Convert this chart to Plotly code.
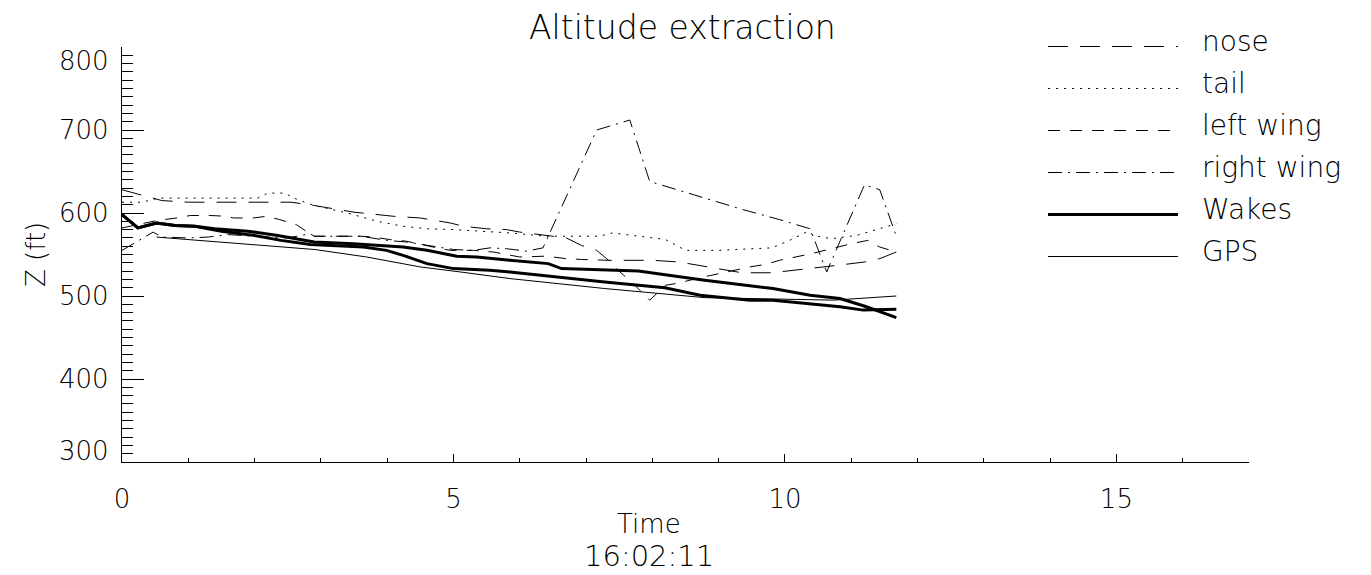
import plotly.graph_objects as go

# ---------------- text ----------------
title_text = "Altitude extraction"
x_title = "Time"
x_subtitle = "16:02:11"
y_title = "Z (ft)"

x_tick_vals = [0, 5, 10, 15]
x_tick_text = ["0", "5", "10", "15"]
y_tick_vals = [300, 400, 500, 600, 700, 800]
y_tick_text = ["300", "400", "500", "600", "700", "800"]

# ---------------- data ----------------
t_nose = [0, 0.6, 1.0, 2.55, 2.9, 3.5, 4.1, 4.5, 4.95, 5.15, 5.5, 5.8, 6.0, 6.7, 6.93,
          7.16, 7.34, 8.0, 8.4, 8.7, 9.1, 9.35, 9.8, 10.4, 10.8, 11.2, 11.43, 11.68]
z_nose = [628, 615, 613, 613, 609, 601, 596, 594, 588, 584, 581, 580, 577, 570, 561,
          555, 543, 543, 541, 537, 531, 528, 528, 533, 537, 541, 545, 553]

t_tail = [0, 0.3, 0.55, 2.05, 2.2, 2.45, 2.65, 2.9, 3.4, 3.85, 4.24, 4.6, 5.0, 5.85, 6.4,
          7.2, 7.4, 7.8, 8.2, 8.5, 9.0, 9.8, 10.07, 10.35, 10.43, 10.7, 11.08, 11.38, 11.68]
z_tail = [613, 613, 618, 618, 624, 624, 616, 609, 600, 590, 584, 581, 580, 576, 572,
          572, 576, 572, 568, 555, 555, 558, 567, 578, 573, 569, 573, 580, 587]

t_left = [0, 0.27, 0.47, 0.62, 0.83, 1.03, 1.33, 1.58, 1.68, 1.98, 2.18, 2.38, 2.63, 2.89,
          3.6, 3.79, 4.04, 4.29, 4.5, 4.69, 4.95, 5.3, 5.6, 6.0, 6.4, 6.7, 6.93, 7.34,
          7.51, 7.66, 7.81, 7.96, 8.2, 8.36, 8.72, 9.47, 9.7, 9.92, 10.4, 11.0, 11.25,
          11.43, 11.68]
z_left = [582, 587, 590, 592, 594, 597, 597, 596, 594, 594, 596, 592, 586, 572,
          572, 571, 568, 566, 562, 559, 555, 555, 553, 547, 548, 545, 544, 543,
          529, 519, 507, 495, 513, 515, 522, 535, 538, 543, 551, 563, 567,
          559, 553]

t_right = [0, 0.27, 0.47, 0.6, 1.0, 1.3, 1.6, 2.0, 2.5, 2.84, 2.9, 3.6, 4.0, 4.3, 4.6,
           5.0, 5.3, 5.55, 5.8, 6.1, 6.35, 7.16, 7.66, 7.96, 9.37, 9.92, 10.38, 10.63,
           11.2, 11.43, 11.68]
z_right = [555, 568, 577, 571, 570, 571, 574, 572, 570, 575, 572, 572, 567, 565, 561,
           556, 555, 558, 557, 554, 558, 700, 712, 638, 604, 592, 581, 529,
           634, 628, 572]

t_wake1 = [0, 0.24, 0.52, 0.8, 1.1, 1.4, 1.9, 2.35, 2.9, 3.49, 4.24, 4.6, 5.05, 5.35,
           5.85, 6.43, 6.63, 7.79, 8.79, 9.82, 10.38, 10.83, 11.23, 11.68]
z_wake1 = [598, 582, 588, 585, 584, 581, 578, 573, 565, 563, 559, 555, 548, 547,
           543, 539, 533, 530, 519, 509, 501, 497, 487, 474]

t_wake2 = [0, 0.24, 0.52, 0.8, 1.1, 1.5, 2.0, 2.4, 2.84, 3.64, 3.99, 4.24, 4.6, 5.0,
           5.55, 5.85, 7.28, 8.19, 8.72, 9.47, 9.82, 10.83, 11.18, 11.68]
z_wake2 = [598, 582, 588, 585, 584, 578, 573, 567, 562, 559, 555, 549, 539, 533,
           531, 529, 517, 510, 501, 495, 495, 487, 483, 484]

t_gps = [0.52, 2.91, 3.69, 4.5, 5.1, 5.85, 7.28, 8.79, 10.73, 11.68]
z_gps = [571, 556, 547, 535, 529, 521, 509, 498, 495, 500]

legend_labels = ["nose", "tail", "left wing", "right wing", "Wakes", "GPS"]

# ---------------- styles ----------------
DASH = {
    "nose": "20px,12px",
    "tail": "2px,6px",
    "left wing": "12px,10px",
    "right wing": "14px,6px,2px,6px",
    "Wakes": "solid",
    "GPS": "solid",
}
WIDTH = {"nose": 1, "tail": 1, "left wing": 1, "right wing": 1, "Wakes": 3, "GPS": 1}
FONT = "DejaVu Sans"
FW = 200

series = [
    ("nose", t_nose, z_nose),
    ("tail", t_tail, z_tail),
    ("left wing", t_left, z_left),
    ("right wing", t_right, z_right),
    ("Wakes", t_wake1, z_wake1),
    ("Wakes", t_wake2, z_wake2),
    ("GPS", t_gps, z_gps),
]

fig = go.Figure()
for name, t, z in series:
    fig.add_trace(go.Scatter(
        x=t, y=z, mode="lines", name=name, showlegend=False,
        line=dict(color="black", width=WIDTH[name], dash=DASH[name]),
    ))

# manual IDL-style legend
leg_x0, leg_x1, leg_tx = 1048, 1178, 1200
leg_row0, leg_step = 46.5, 42
shapes = []
annotations = []
W, H = 1371, 575
L, R, T, B = 122, 122, 47, 113
pw, ph = W - L - R, H - T - B


def px_to_paper_x(px):
    return (px - L) / pw


def py_to_paper_y(py):
    return (H - B - py) / ph


def fnt(size):
    return dict(family=FONT, size=size, color="black", weight=FW)


for i, lab in enumerate(legend_labels):
    yy = leg_row0 + i * leg_step
    shapes.append(dict(
        type="line", xref="paper", yref="paper",
        x0=px_to_paper_x(leg_x0), x1=px_to_paper_x(leg_x1),
        y0=py_to_paper_y(yy), y1=py_to_paper_y(yy),
        line=dict(color="black", width=WIDTH[lab], dash=DASH[lab]),
    ))
    annotations.append(dict(
        text=lab, xref="paper", yref="paper",
        x=px_to_paper_x(leg_tx), y=py_to_paper_y(yy - 5),
        xanchor="left", yanchor="middle", showarrow=False,
        font=fnt(28),
    ))

# y tick labels (end labels kept inside the axis span, as in the original)
for v, txt in zip(y_tick_vals, y_tick_text):
    shift = 0
    if v == max(y_tick_vals):
        shift = -14
    elif v == min(y_tick_vals):
        shift = 11
    annotations.append(dict(
        text=txt, xref="paper", yref="y", x=0, y=v, xshift=-11, yshift=shift,
        xanchor="right", yanchor="middle", showarrow=False,
        font=fnt(26),
    ))

annotations += [
    dict(text=title_text, xref="paper", yref="paper", x=px_to_paper_x(682),
         y=py_to_paper_y(28), xanchor="center", yanchor="middle", showarrow=False,
         font=fnt(33)),
    dict(text=x_title, xref="paper", yref="paper", x=px_to_paper_x(649),
         y=py_to_paper_y(524), xanchor="center", yanchor="middle", showarrow=False,
         font=fnt(26)),
    dict(text=x_subtitle, xref="paper", yref="paper", x=px_to_paper_x(649),
         y=py_to_paper_y(556), xanchor="center", yanchor="middle", showarrow=False,
         font=fnt(29)),
    dict(text=y_title, xref="paper", yref="paper", x=px_to_paper_x(36),
         y=py_to_paper_y(255), xanchor="center", yanchor="middle", showarrow=False,
         textangle=-90, font=fnt(26)),
]

fig.update_layout(
    width=W, height=H, autosize=False,
    margin=dict(l=L, r=R, t=T, b=B, pad=0),
    paper_bgcolor="white", plot_bgcolor="white",
    font=dict(family=FONT, color="black"),
    shapes=shapes, annotations=annotations,
    showlegend=False,
)
fig.update_xaxes(
    range=[0, 17], showgrid=False, zeroline=False, showline=True,
    linecolor="black", linewidth=1, mirror=False,
    ticks="inside", ticklen=8, tickwidth=1, tickcolor="black",
    tickvals=x_tick_vals, ticktext=x_tick_text,
    tickfont=fnt(26),
    ticklabelstandoff=14,
    minor=dict(dtick=1, ticks="inside", ticklen=4, tickcolor="black", showgrid=False),
)
fig.update_yaxes(
    range=[300, 800], showgrid=False, zeroline=False, showline=True,
    linecolor="black", linewidth=1, mirror=False,
    ticks="inside", ticklen=22, tickwidth=1, tickcolor="black",
    tickvals=y_tick_vals, showticklabels=False,
    minor=dict(dtick=10, ticks="inside", ticklen=11, tickcolor="black", showgrid=False),
)

fig.write_html("out.html")
